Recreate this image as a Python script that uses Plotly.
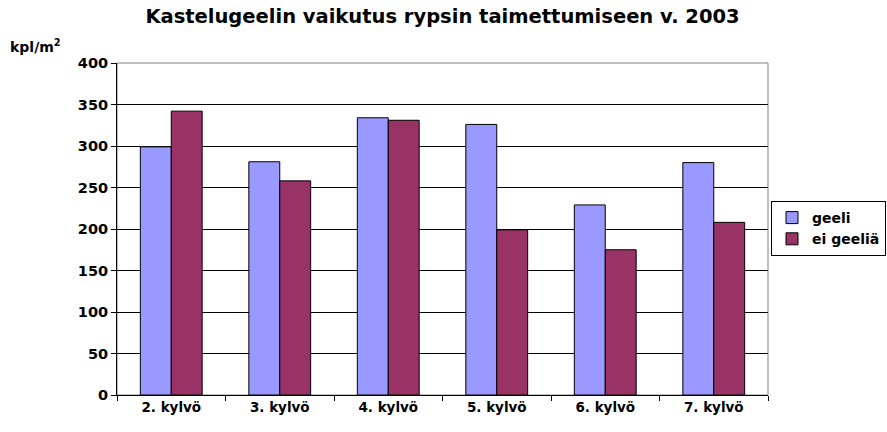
import plotly.graph_objects as go

categories = ["2. kylvö", "3. kylvö", "4. kylvö", "5. kylvö", "6. kylvö", "7. kylvö"]
geeli = [299, 281, 334, 326, 229, 280]
ei_geelia = [342, 258, 331, 199, 175, 208]
y_ticks = [0, 50, 100, 150, 200, 250, 300, 350, 400]

FONT = "DejaVu Sans, Liberation Sans, Arial, sans-serif"

fig = go.Figure()
fig.add_trace(go.Bar(name="geeli", x=categories, y=geeli,
                     marker=dict(color="#9999FF", line=dict(color="#000000", width=1))))
fig.add_trace(go.Bar(name="ei geeliä", x=categories, y=ei_geelia,
                     marker=dict(color="#993366", line=dict(color="#000000", width=1))))

fig.update_layout(
    width=887, height=432,
    margin=dict(l=117, r=119, t=63, b=37, autoexpand=False),
    paper_bgcolor="white", plot_bgcolor="white",
    barmode="group", bargap=0.43, bargroupgap=0,
    font=dict(family=FONT, size=14, color="black", weight="bold"),
    title=dict(text="Kastelugeelin vaikutus rypsin taimettumiseen v. 2003",
               x=0.5, xref="paper", xanchor="center",
               y=1 - 16 / 432, yref="container", yanchor="middle",
               font=dict(family=FONT, size=19.5, color="black", weight="bold")),
    legend=dict(x=771 / 887, xref="container", xanchor="left",
                y=1 - 201 / 432, yref="container", yanchor="top",
                bordercolor="black", borderwidth=1, bgcolor="white",
                font=dict(family=FONT, size=14, color="black", weight="bold"),
                tracegroupgap=0, itemwidth=30),
    showlegend=True,
)
fig.update_xaxes(
    showline=True, linecolor="black", linewidth=1,
    ticks="outside", ticklen=5, tickcolor="black", tickson="boundaries",
    tickfont=dict(family=FONT, size=13.5, color="black", weight="bold"),
    showgrid=False, automargin=False,
)
fig.update_yaxes(
    range=[0, 400], tickvals=y_ticks,
    showline=True, linecolor="black", linewidth=1,
    ticks="outside", ticklen=5, tickcolor="black",
    showgrid=True, gridcolor="#000000", gridwidth=1,
    tickfont=dict(family=FONT, size=14.5, color="black", weight="bold"),
    zeroline=False, automargin=False,
)
fig.add_shape(type="rect", xref="paper", yref="paper", x0=0, x1=1, y0=0, y1=1,
              line=dict(color="#808080", width=1), layer="below")
fig.add_annotation(text="kpl/m<sup>2</sup>", xref="paper", yref="paper",
                   x=(8 - 117) / 651, y=1 + (63 - 46) / 332, xanchor="left", yanchor="middle",
                   showarrow=False, font=dict(family=FONT, size=14, color="black", weight="bold"))

fig.write_html("out.html", config={"displayModeBar": False},
               post_script="document.body.style.margin='0px';")
